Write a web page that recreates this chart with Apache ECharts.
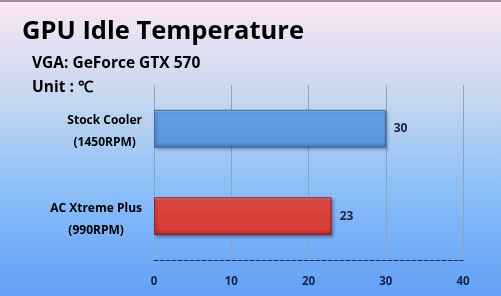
<!DOCTYPE html>
<html>
<head>
<meta charset="utf-8">
<script src="https://cdn.jsdelivr.net/npm/echarts@6/dist/echarts.min.js"></script>
<style>
html,body{margin:0;padding:0;background:#fff;}
#main{width:501px;height:296px;}
</style>
</head>
<body>
<div id="main"></div>
<script>
var categories = ['AC Xtreme Plus\n(990RPM)', 'Stock Cooler\n(1450RPM)'];
var values = [23, 30];
var barColors = ['red', 'blue'];
var xTicks = [0, 10, 20, 30, 40];

var chart = echarts.init(document.getElementById('main'), null, {renderer: 'canvas'});
var FONT = '"Open Sans", sans-serif';
var palette = {
  blue: {stops: ['#9cc6f2', '#629fe3', '#5a97dd', '#3e74bb'], border: '#3c68a6'},
  red: {stops: ['#f08a80', '#dd4842', '#d43d38', '#a52424'], border: '#8a2222'}
};
function grad(p) {
  return new echarts.graphic.LinearGradient(0, 0, 0, 1, [
    {offset: 0, color: p.stops[0]},
    {offset: 0.1, color: p.stops[1]},
    {offset: 0.85, color: p.stops[2]},
    {offset: 1, color: p.stops[3]}
  ]);
}
var option = {
  animation: false,
  graphic: [
    {type: 'rect', z: -10, silent: true, shape: {x: 0, y: 0, width: 501, height: 296},
     style: {fill: new echarts.graphic.LinearGradient(0, 0, 0, 1, [
       {offset: 0, color: '#fbe6f4'},
       {offset: 0.35, color: '#c3d6ef'},
       {offset: 0.62, color: '#8ec0f8'},
       {offset: 1, color: '#62a0f6'}
     ])}},
    {type: 'rect', z: -9, silent: true, shape: {x: 0, y: 0, width: 501, height: 2}, style: {fill: '#9b8f99'}}
  ],
  title: [
    {text: 'GPU Idle Temperature', left: 22, top: 19, padding: 0,
     textStyle: {fontFamily: FONT, fontWeight: 'bold', fontSize: 25.5, color: '#000'}},
    {text: 'VGA: GeForce GTX 570', left: 32, top: 56, padding: 0,
     textStyle: {fontFamily: FONT, fontWeight: 'bold', fontSize: 15.5, color: '#000'}},
    {text: 'Unit : ℃', left: 32, top: 80, padding: 0,
     textStyle: {fontFamily: FONT, fontWeight: 'bold', fontSize: 15.5, color: '#000'}}
  ],
  grid: {left: 154, right: 38, top: 85, bottom: 36, containLabel: false},
  xAxis: {
    type: 'value', min: 0, max: 40, interval: 10,
    axisLine: {show: true, lineStyle: {color: '#1c2a6a', type: 'dashed', width: 1}},
    axisTick: {show: false},
    splitLine: {show: true, lineStyle: {color: '#8fa3bf', width: 1}},
    axisLabel: {margin: 16, fontFamily: FONT, fontWeight: 'bold', fontSize: 11.5, color: '#1a1f4a',
      formatter: function (v) { return xTicks.indexOf(v) >= 0 ? String(v) : ''; }}
  },
  yAxis: {
    type: 'category', data: categories,
    axisLine: {show: false}, axisTick: {show: false},
    axisLabel: {margin: 12, align: 'right', lineHeight: 22, padding: [6, 0, 0, 0],
      formatter: function (v) { return v.split('\n').map(function (s) { return '{a|' + s + '}'; }).join('\n'); },
      rich: {a: {align: 'center', fontFamily: FONT, fontWeight: 'bold', fontSize: 12, color: '#000', lineHeight: 22}}}
  },
  series: [{
    type: 'bar', barWidth: 38,
    data: values.map(function (v, i) {
      var p = palette[barColors[i]];
      return {value: v, itemStyle: {color: grad(p), borderColor: p.border, borderWidth: 1,
        shadowColor: 'rgba(0,0,40,0.35)', shadowBlur: 3, shadowOffsetX: 2, shadowOffsetY: 2}};
    }),
    label: {show: true, position: 'right', distance: 8, fontFamily: FONT, fontWeight: 'bold', fontSize: 12, color: '#1a1f4a'}
  }]
};
chart.setOption(option);
</script>
</body>
</html>
